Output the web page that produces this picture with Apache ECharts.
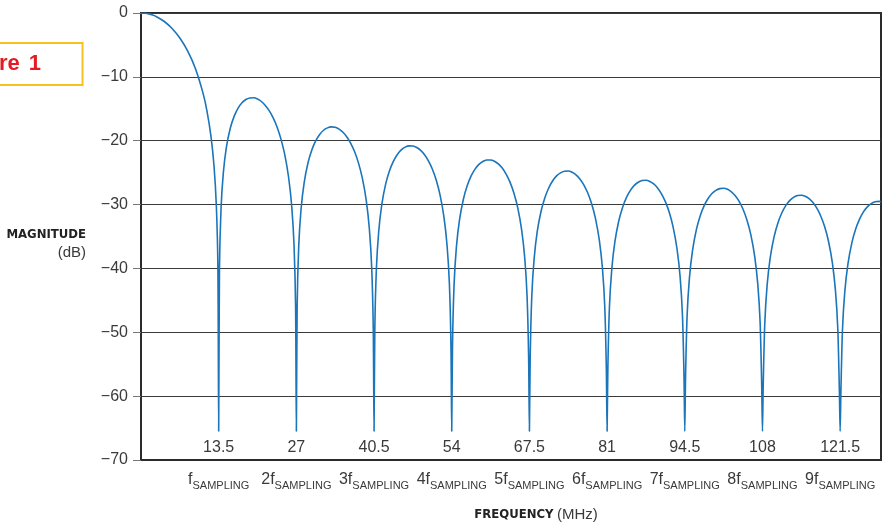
<!DOCTYPE html>
<html>
<head>
<meta charset="utf-8">
<script src="https://cdn.jsdelivr.net/npm/echarts@6.0.0/dist/echarts.min.js"></script>
<style>
html,body{margin:0;padding:0;background:#fff;}
#chart{width:892px;height:527px;}
</style>
</head>
<body>
<div id="chart"></div>
<script>
// Frequency samples (MHz)
const freqMHz = [
  0, 0.675, 1.35, 2.025, 2.7, 4.05, 5.4, 6.75, 8.1, 9.45, 10.8, 11.475, 12.15, 12.69, 13.095, 13.365, 13.5,
  13.635, 13.905, 14.31, 14.85, 15.525, 16.2, 16.875, 17.55, 18.225, 18.9, 19.575, 20.25, 20.925, 21.6, 22.275, 22.95, 23.625, 24.3, 24.975, 25.65, 26.19, 26.595, 26.865, 27,
  27.135, 27.405, 27.81, 28.35, 29.025, 29.7, 30.375, 31.05, 31.725, 32.4, 33.075, 33.75, 34.425, 35.1, 35.775, 36.45, 37.125, 37.8, 38.475, 39.15, 39.69, 40.095, 40.365, 40.5,
  40.635, 40.905, 41.31, 41.85, 42.525, 43.2, 43.875, 44.55, 45.225, 45.9, 46.575, 47.25, 47.925, 48.6, 49.275, 49.95, 50.625, 51.3, 51.975, 52.65, 53.19, 53.595, 53.865, 54,
  54.135, 54.405, 54.81, 55.35, 56.025, 56.7, 57.375, 58.05, 58.725, 59.4, 60.075, 60.75, 61.425, 62.1, 62.775, 63.45, 64.125, 64.8, 65.475, 66.15, 66.69, 67.095, 67.365, 67.5,
  67.635, 67.905, 68.31, 68.85, 69.525, 70.2, 70.875, 71.55, 72.225, 72.9, 73.575, 74.25, 74.925, 75.6, 76.275, 76.95, 77.625, 78.3, 78.975, 79.65, 80.19, 80.595, 80.865, 81,
  81.135, 81.405, 81.81, 82.35, 83.025, 83.7, 84.375, 85.05, 85.725, 86.4, 87.075, 87.75, 88.425, 89.1, 89.775, 90.45, 91.125, 91.8, 92.475, 93.15, 93.69, 94.095, 94.365, 94.5,
  94.635, 94.905, 95.31, 95.85, 96.525, 97.2, 97.875, 98.55, 99.225, 99.9, 100.575, 101.25, 101.925, 102.6, 103.275, 103.95, 104.625, 105.3, 105.975, 106.65, 107.19, 107.595, 107.865, 108,
  108.135, 108.405, 108.81, 109.35, 110.025, 110.7, 111.375, 112.05, 112.725, 113.4, 114.075, 114.75, 115.425, 116.1, 116.775, 117.45, 118.125, 118.8, 119.475, 120.15, 120.69, 121.095, 121.365, 121.5,
  121.635, 121.905, 122.31, 122.85, 123.525, 124.2, 124.875, 125.55, 126.225, 126.9, 127.575, 128.25, 128.6
];
// Magnitude (dB) at each frequency sample
const magnitudeDb = [
  0, -0.04, -0.14, -0.32, -0.58, -1.33, -2.42, -3.92, -5.94, -8.69, -12.62, -15.39, -19.23, -23.95, -30.21, -39.91, -65.5,
  -40.09, -30.73, -25.00, -20.97, -18.02, -16.15, -14.89, -14.06, -13.55, -13.31, -13.28, -13.47, -13.86, -14.47, -15.29, -16.39, -17.81, -19.67, -22.15, -25.72, -30.25, -36.36, -45.98, -65.5,
  -46.07, -36.62, -30.77, -26.59, -23.45, -21.41, -20.00, -19.02, -18.36, -17.99, -17.84, -17.90, -18.18, -18.68, -19.41, -20.41, -21.74, -23.51, -25.90, -29.39, -33.86, -39.93, -49.52, -65.5,
  -49.57, -40.10, -34.21, -29.97, -26.77, -24.67, -23.19, -22.15, -21.44, -21.01, -20.81, -20.82, -21.06, -21.51, -22.19, -23.15, -24.43, -26.16, -28.51, -31.96, -36.40, -42.45, -52.02, -65.5,
  -52.07, -42.58, -36.66, -32.40, -29.16, -27.03, -25.52, -24.45, -23.71, -23.25, -23.02, -23.01, -23.21, -23.64, -24.29, -25.23, -26.49, -28.19, -30.52, -33.95, -38.37, -44.40, -53.97, -65.5,
  -54.00, -44.50, -38.58, -34.29, -31.04, -28.88, -27.36, -26.27, -25.51, -25.03, -24.78, -24.75, -24.94, -25.35, -25.98, -26.90, -28.15, -29.83, -32.15, -35.56, -39.97, -45.99, -55.55, -65.5,
  -55.58, -46.08, -40.14, -35.85, -32.58, -30.41, -28.87, -27.77, -27.00, -26.51, -26.24, -26.20, -26.38, -26.77, -27.40, -28.31, -29.54, -31.21, -33.52, -36.92, -41.32, -47.34, -56.89, -65.5,
  -56.92, -47.41, -41.47, -37.17, -33.89, -31.71, -30.16, -29.05, -28.27, -27.77, -27.50, -27.44, -27.61, -28.00, -28.62, -29.51, -30.74, -32.41, -34.70, -38.10, -42.49, -48.50, -58.05, -65.5,
  -58.08, -48.57, -42.62, -38.31, -35.03, -32.84, -31.28, -30.17, -29.38, -28.87, -28.59, -28.53, -28.69, -29.07, -29.68, -30.57, -31.79, -33.45, -35.74, -39.13, -43.52, -49.53, -59.08, -65.5,
  -59.10, -49.59, -43.64, -39.32, -36.03, -33.84, -32.28, -31.15, -30.36, -29.85, -29.56, -29.50, -29.55
];
// Tick labels
const nullStep = 13.5;
const nullLabels = ['13.5', '27', '40.5', '54', '67.5', '81', '94.5', '108', '121.5'];
const samplingLabels = ['f', '2f', '3f', '4f', '5f', '6f', '7f', '8f', '9f'];
const samplingSub = 'SAMPLING';

const FONT = "'Liberation Sans', Arial, sans-serif";
const NARROW = "'DejaVu Sans Condensed', 'Liberation Sans Narrow', sans-serif";
const TXT = '#3a3a3a';

function tickIndex(v) {
  const n = Math.round(v / nullStep);
  if (n < 1 || Math.abs(v - n * nullStep) > 1e-6) return -1;
  return n - 1;
}

const chart = echarts.init(document.getElementById('chart'), null, {renderer: 'canvas'});
chart.setOption({
  animation: false,
  backgroundColor: '#ffffff',
  title: {
    text: '{a|Figure}{b|1}',
    right: 809,
    top: 43,
    padding: [10, 42, 10, 10],
    borderColor: '#f7c21e',
    borderWidth: 2,
    textStyle: {
      color: '#e31b23', fontSize: 22, fontWeight: 'bold', fontFamily: FONT,
      rich: {
        a: {color: '#e31b23', fontSize: 22, lineHeight: 22, fontWeight: 'bold', fontFamily: FONT},
        b: {color: '#e31b23', fontSize: 22, lineHeight: 22, fontWeight: 'bold', fontFamily: FONT, padding: [0, 0, 0, 9]}
      }
    }
  },
  grid: {
    left: 141, right: 11, top: 13, bottom: 67,
    show: true, borderColor: '#2b2b2b', borderWidth: 2,
    outerBoundsMode: 'none'
  },
  xAxis: [
    {
      type: 'value', min: 0, max: 128.6, interval: nullStep, position: 'bottom',
      axisLine: {show: true, onZero: false, lineStyle: {color: '#2b2b2b', width: 2}},
      axisTick: {show: false},
      splitLine: {show: false},
      axisLabel: {
        inside: true, margin: 4, fontSize: 16, color: TXT, fontFamily: FONT,
        showMinLabel: false, showMaxLabel: false,
        formatter: function (v) { const i = tickIndex(v); return i < 0 ? '' : nullLabels[i]; }
      }
    },
    {
      type: 'value', min: 0, max: 128.6, interval: nullStep, position: 'bottom',
      axisLine: {show: false},
      axisTick: {show: false},
      splitLine: {show: false},
      axisLabel: {
        margin: 15, color: TXT, fontFamily: FONT,
        showMinLabel: false, showMaxLabel: false,
        formatter: function (v) {
          const i = tickIndex(v);
          return i < 0 ? '' : '{n|' + samplingLabels[i] + '}{s|' + samplingSub + '}';
        },
        rich: {
          n: {fontSize: 16, lineHeight: 16, color: TXT, fontFamily: FONT, verticalAlign: 'bottom', padding: [0, 0, 3, 0]},
          s: {fontSize: 11, lineHeight: 11, color: TXT, fontFamily: FONT, verticalAlign: 'bottom'}
        }
      },
      name: '{b|FREQUENCY} {n|(MHz)}',
      nameLocation: 'middle',
      nameGap: 47,
      nameTextStyle: {
        padding: [0, 0, 0, 50],
        rich: {
          b: {fontSize: 13, fontWeight: 'bold', color: '#222', fontFamily: NARROW},
          n: {fontSize: 15, color: TXT, fontFamily: FONT}
        }
      }
    }
  ],
  yAxis: {
    type: 'value', min: -70, max: 0, interval: 10,
    axisLine: {show: true, lineStyle: {color: '#2b2b2b', width: 2}},
    axisTick: {show: true, length: 8, lineStyle: {color: '#777', width: 1}},
    splitLine: {show: true, lineStyle: {color: '#3a3a3a', width: 1}},
    axisLabel: {
      margin: 13, fontSize: 16, color: TXT, fontFamily: FONT,
      formatter: function (v) { return v === 0 ? '0' : '\u2212' + Math.abs(v); }
    },
    name: '{b|MAGNITUDE}\n{n|(dB)}',
    nameLocation: 'middle',
    nameRotate: 0,
    nameGap: 55,
    nameTextStyle: {
      align: 'right',
      padding: [14, 0, 0, 0],
      rich: {
        b: {fontSize: 13, fontWeight: 'bold', color: '#222', fontFamily: NARROW, align: 'right', lineHeight: 18},
        n: {fontSize: 15, color: TXT, fontFamily: FONT, align: 'right', lineHeight: 18}
      }
    }
  },
  series: [{
    type: 'line',
    xAxisIndex: 0,
    data: freqMHz.map(function (f, i) { return [f, magnitudeDb[i]]; }),
    showSymbol: false,
    smooth: 0.25,
    lineStyle: {color: '#1a75bb', width: 1.6},
    itemStyle: {color: '#1a75bb'}
  }]
});
</script>
</body>
</html>
